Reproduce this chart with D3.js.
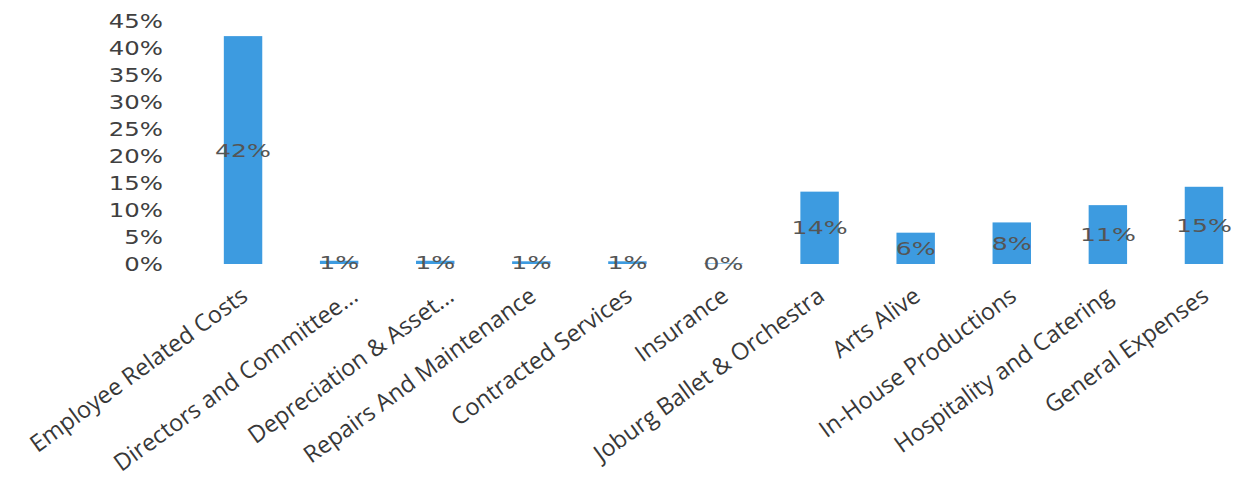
<!DOCTYPE html>
<html>
<head>
<meta charset="utf-8">
<script src="https://cdn.jsdelivr.net/npm/d3@7"></script>
<style>
  body { margin: 0; background: #fff; }
  svg text { fill: #404040; }
</style>
</head>
<body>
<div id="chart"></div>
<script>
// --- Data ---
const categories = [
    "Employee Related Costs", "Directors and Committee...", "Depreciation & Asset...",
    "Repairs And Maintenance", "Contracted Services", "Insurance",
    "Joburg Ballet & Orchestra", "Arts Alive", "In-House Productions",
    "Hospitality and Catering", "General Expenses"
];
const values = [42.2, 0.6, 0.6, 0.5, 0.5, 0.1, 13.4, 5.8, 7.7, 10.9, 14.3];
const valueLabels = ["42%", "1%", "1%", "1%", "1%", "0%", "14%", "6%", "8%", "11%", "15%"];
const yTicks = [0, 5, 10, 15, 20, 25, 30, 35, 40, 45];

const width = 1237, height = 479;

const svg = d3.select("#chart").append("svg")
    .attr("width", width)
    .attr("height", height);

// --- Scales ---
const x = d3.scaleBand()
    .domain(categories)
    .range([195, 1252])
    .paddingInner(0.6)
    .paddingOuter(0.3);

const y = d3.scaleLinear()
    .domain([0, 45])
    .range([264, 21]);

// --- Y axis labels (wide font, stretched a bit) ---
svg.append("g").selectAll("text.ytick")
    .data(yTicks)
    .enter()
    .append("text")
    .attr("class", "ytick")
    .attr("text-anchor", "end")
    .attr("dy", "0.36em")
    .attr("transform", d => `translate(163,${y(d)}) scale(1.22,1)`)
    .style("font-family", "'DejaVu Sans', Verdana, sans-serif")
    .style("font-size", "20px")
    .text(d => d + "%");

// --- Bars ---
svg.selectAll("rect.bar")
    .data(values)
    .enter()
    .append("rect")
    .attr("class", "bar")
    .attr("x", (d, i) => x(categories[i]))
    .attr("width", x.bandwidth())
    .attr("y", d => y(d))
    .attr("height", d => y(0) - y(d))
    .attr("fill", "#3d9be0");

// --- Data labels ---
svg.selectAll("text.val")
    .data(values)
    .enter()
    .append("text")
    .attr("class", "val")
    .attr("text-anchor", "middle")
    .attr("dy", "0.36em")
    .attr("transform", (d, i) => `translate(${x(categories[i]) + x.bandwidth() / 2},${(y(d) + y(0)) / 2}) scale(1.4,1)`)
    .style("font-family", "'DejaVu Sans', Verdana, sans-serif")
    .style("font-size", "18px")
    .style("fill", "#555")
    .text((d, i) => valueLabels[i]);

// --- Category labels, rotated ---
// truncated names sit a little further right, like in the source
svg.selectAll("text.cat")
    .data(categories)
    .enter()
    .append("text")
    .attr("class", "cat")
    .attr("text-anchor", "end")
    .attr("transform", d => {
        const shift = d.endsWith("...") ? 10 : -4;
        return `translate(${x(d) + x.bandwidth() / 2 + shift},${285}) rotate(-36)`;
    })
    .attr("dy", "0.75em")
    .style("font-family", "'Open Sans', sans-serif")
    .style("font-size", "23.5px")
    .style("fill", "#383838")
    .text(d => d);
</script>
</body>
</html>
